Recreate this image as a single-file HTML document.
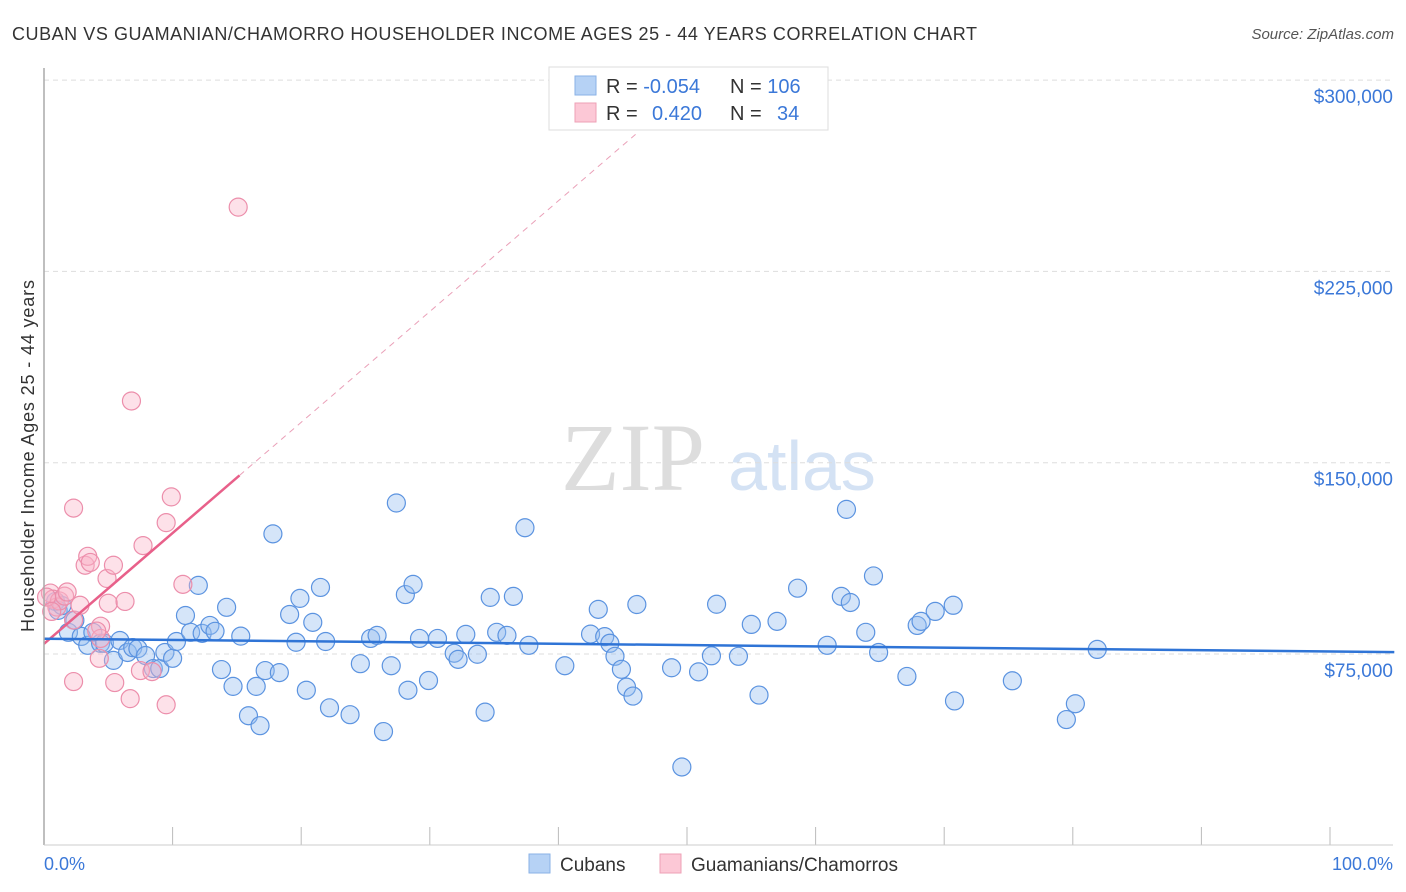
<!DOCTYPE html>
<html><head><meta charset="utf-8"><style>
body{margin:0;background:#fff;font-family:"Liberation Sans",sans-serif;}
#wrap{position:relative;width:1406px;height:892px;overflow:hidden;}
</style></head><body>
<div id="wrap">
<svg id="svg" width="1406" height="892" xmlns="http://www.w3.org/2000/svg">
<text x="12" y="40" font-size="18" fill="#333" textLength="965" lengthAdjust="spacing">CUBAN VS GUAMANIAN/CHAMORRO HOUSEHOLDER INCOME AGES 25 - 44 YEARS CORRELATION CHART</text>
<text x="1394" y="39" font-size="15" fill="#555" font-style="italic" text-anchor="end">Source: ZipAtlas.com</text>
<text x="633" y="490" font-size="96" fill="#ddd" font-family="Liberation Serif,serif" text-anchor="middle">ZIP</text>
<text x="802" y="490" font-size="70" fill="#d4e2f4" text-anchor="middle">atlas</text>
<text transform="translate(34,456) rotate(-90)" font-size="18" fill="#333" text-anchor="middle" textLength="352" lengthAdjust="spacing">Householder Income Ages 25 - 44 years</text>
<g id="grid"></g><g id="marks"></g>
<line x1="44" y1="68" x2="44" y2="845" stroke="#aaa" stroke-width="1.5"/>
<line x1="44" y1="845" x2="1393" y2="845" stroke="#ccc"/>
<text x="44" y="870" font-size="18" fill="#3b78d8">0.0%</text>
<text x="1393" y="870" font-size="18" fill="#3b78d8" text-anchor="end">100.0%</text>
<g>
<rect x="549" y="67" width="279" height="63" fill="#fff" stroke="#ddd"/>
<rect x="575" y="76" width="21" height="19" fill="#b6d2f5" stroke="#8ab2e6"/>
<rect x="575" y="103" width="21" height="19" fill="#fcc8d6" stroke="#eea0b6"/>
<text x="606" y="93" font-size="20" fill="#333">R = <tspan fill="#3b78d8">-0.054</tspan><tspan x="730">N = </tspan><tspan fill="#3b78d8">106</tspan></text>
<text x="606" y="120" font-size="20" fill="#333">R = <tspan x="652" fill="#3b78d8">0.420</tspan><tspan x="730">N = </tspan><tspan x="777" fill="#3b78d8">34</tspan></text>
</g>
<g>
<rect x="529" y="854" width="21" height="19" fill="#b6d2f5" stroke="#8ab2e6"/>
<text x="560" y="871" font-size="19" fill="#333">Cubans</text>
<rect x="660" y="854" width="21" height="19" fill="#fcc8d6" stroke="#eea0b6"/>
<text x="691" y="871" font-size="19" fill="#333">Guamanians/Chamorros</text>
</g>
</svg></div>
<script>
const yTicks=[75000,150000,225000,300000];
const yTickLabels=["$75,000","$150,000","$225,000","$300,000"];
const blueX=[0.9,1.1,1.4,1.9,2.4,2.9,3.4,3.8,4.4,4.7,5.4,5.9,6.5,6.9,7.3,7.9,8.5,9.0,9.4,10.0,10.3,11.0,11.4,12.0,12.3,12.9,13.3,13.8,14.2,14.7,15.3,15.9,16.5,16.8,17.2,17.8,18.3,19.1,19.6,19.9,20.4,20.9,21.5,21.9,22.2,23.8,24.6,25.4,25.9,26.4,27.0,27.4,28.1,28.3,28.7,29.2,29.9,30.6,31.9,32.2,32.8,33.7,34.3,34.7,35.2,36.0,36.5,37.4,37.7,40.5,42.5,43.1,43.6,44.0,44.4,44.9,45.3,45.8,46.1,48.8,49.6,50.9,51.9,52.3,54.0,55.0,55.6,57.0,58.6,60.9,62.0,62.4,62.7,63.9,64.5,64.9,67.1,67.9,68.2,69.3,70.7,70.8,75.3,79.5,80.2,81.9];
const blueY=[95.6,92.1,94.0,83.5,88.2,81.9,78.4,83.5,79.2,79.2,72.5,80.3,75.6,77.5,77.1,74.4,69.3,69.3,75.6,73.3,79.9,90.1,83.5,101.9,83.1,86.2,83.9,68.9,93.3,62.3,82.0,50.8,62.3,46.9,68.5,122.1,67.7,90.5,79.6,96.8,60.8,87.4,101.1,79.9,53.9,51.2,71.2,81.1,82.3,44.6,70.4,134.2,98.3,60.8,102.3,81.1,64.6,81.1,75.3,72.9,82.7,74.9,52.2,97.2,83.5,82.3,97.6,124.5,78.4,70.4,82.8,92.5,81.8,79.2,74.1,69.0,62.0,58.5,94.4,69.6,30.7,68.0,74.3,94.5,74.1,86.6,58.9,87.8,100.8,78.4,97.6,131.7,95.2,83.5,105.6,75.6,66.2,86.2,87.8,91.7,94.1,56.6,64.5,49.3,55.5,76.8];
const pinkX=[0.5,0.7,1.0,1.2,1.6,1.8,2.3,2.3,2.3,2.8,3.2,3.4,3.6,4.4,4.4,4.3,4.9,5.0,5.4,5.5,6.3,6.7,6.8,7.5,7.7,8.4,9.5,9.5,9.9,10.8,15.1,0.2,0.6,4.1];
const pinkY=[98.9,96.5,93.4,95.8,97.7,99.3,88.3,132.2,64.2,94.1,109.8,113.3,110.9,85.9,81.1,73.3,104.6,94.9,109.8,63.8,95.6,57.5,174.2,68.5,117.5,68.1,126.5,55.1,136.6,102.3,250.2,97.3,91.7,84.0];
const blueTrend=[81000,76000];
const pinkTrend=[79000,145000];
const pinkTrendEnd=15.2;
const X=p=>44+p*12.86;
const Y=v=>654-(v-75000)*191.3/75000;
const NS="http://www.w3.org/2000/svg";
const grid=document.getElementById('grid'),marks=document.getElementById('marks');
function mk(tag,attrs,parent){const e=document.createElementNS(NS,tag);for(const k in attrs)e.setAttribute(k,attrs[k]);parent.appendChild(e);return e;}
yTicks.forEach((v,i)=>{
 const l=mk('line',{x1:44,x2:1393,y1:Y(v),y2:Y(v),stroke:'#ddd','stroke-dasharray':'5,4'},grid);
 
 
 const t=mk('text',{x:1393,y:Y(v)+23,'font-size':19,fill:'#3b78d8','text-anchor':'end'},grid);
 t.textContent=yTickLabels[i];
 
 
});
for(let i=0;i<=10;i++){
 const t=mk('line',{x1:X(i*10),x2:X(i*10),y1:827,y2:845,stroke:'#bbb'},grid);
 
 
}
blueX.forEach((x,i)=>{
 const c=mk('circle',{cx:X(x),cy:Y(blueY[i]*1000),r:9,fill:'rgba(150,190,240,0.4)',stroke:'#5b93e0','stroke-width':1.2},marks);
 
 
});
pinkX.forEach((x,i)=>{
 const c=mk('circle',{cx:X(x),cy:Y(pinkY[i]*1000),r:9,fill:'rgba(250,180,200,0.4)',stroke:'#ec8eab','stroke-width':1.2},marks);
 
 
});
const slope=(pinkTrend[1]-pinkTrend[0])/pinkTrendEnd;
const pd=mk('line',{x1:X(pinkTrendEnd),y1:Y(pinkTrend[1]),x2:X(46),y2:Y(pinkTrend[0]+slope*46),stroke:'#eaa0b8','stroke-dasharray':'6,5','stroke-width':1},marks);


const pl=mk('line',{x1:X(0),y1:Y(pinkTrend[0]),x2:X(pinkTrendEnd),y2:Y(pinkTrend[1]),stroke:'#e8608a','stroke-width':2.5},marks);


const bl=mk('line',{x1:X(0),y1:Y(blueTrend[0]),x2:X(105),y2:Y(blueTrend[0]+(blueTrend[1]-blueTrend[0])*1.05),stroke:'#2f74d6','stroke-width':2.5},marks);


</script>
</body></html>
